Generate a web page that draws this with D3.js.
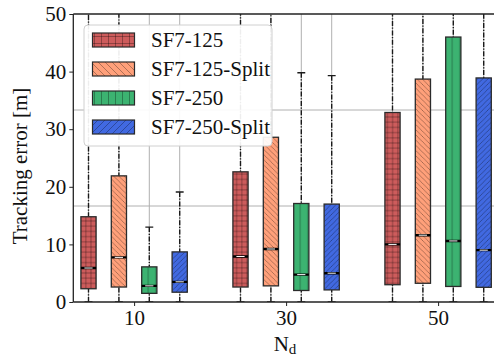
<!DOCTYPE html>
<html>
<head>
<meta charset="utf-8">
<script src="https://cdn.jsdelivr.net/npm/d3@7"></script>
<style>
  html, body { margin: 0; padding: 0; background: #fff; }
  svg { display: block; }
</style>
</head>
<body>
<svg id="chart" width="494" height="356"></svg>
<script>
// Node counts on the x axis
const groups = [10, 30, 50];
const seriesNames = ["SF7-125", "SF7-125-Split", "SF7-250", "SF7-250-Split"];
const seriesColors = ["#cd5c5c", "#ffa07a", "#3cb371", "#4169e1"];
const seriesHatch = ["grid", "back", "vert", "fwd"];
const seriesOffset = [-6, -2, 2, 6];

// Box statistics per series, one entry per group (10, 30, 50)
const whiskerLow = {
  "SF7-125":       [0, 0, 0],
  "SF7-125-Split": [0, 0, 0],
  "SF7-250":       [0, 0, 0],
  "SF7-250-Split": [0, 0, 0]
};
const q1 = {
  "SF7-125":       [2.3, 2.6, 3.0],
  "SF7-125-Split": [2.6, 2.8, 3.25],
  "SF7-250":       [1.5, 2.0, 2.7],
  "SF7-250-Split": [1.7, 2.1, 2.55]
};
const median = {
  "SF7-125":       [5.9, 7.9, 10.0],
  "SF7-125-Split": [7.75, 9.2, 11.6],
  "SF7-250":       [2.8, 4.75, 10.6],
  "SF7-250-Split": [3.5, 5.0, 9.0]
};
const q3 = {
  "SF7-125":       [14.8, 22.6, 32.9],
  "SF7-125-Split": [21.9, 28.6, 38.7],
  "SF7-250":       [6.1, 17.1, 46.0],
  "SF7-250-Split": [8.7, 17.0, 38.9]
};
const whiskerHigh = {
  "SF7-125":       [58, 62, 70],
  "SF7-125-Split": [60, 64, 72],
  "SF7-250":       [13.0, 39.8, 75],
  "SF7-250-Split": [19.1, 39.3, 68]
};

const yTicks = [0, 10, 20, 30, 40, 50];
const yGrid = [50 / 3, 100 / 3];

const SERIF = "Liberation Serif, Times New Roman, DejaVu Serif, serif";

const svg = d3.select("#chart");
const plot = { left: 73.3, top: 14, bottom: 302, right: 498.9 };

const x = d3.scaleLinear().domain([2, 58]).range([plot.left, plot.right]);
const y = d3.scaleLinear().domain([0, 50]).range([plot.bottom, plot.top]);
const boxW = x(2) - x(0);

// Hatch patterns (box fills and legend swatches)
const defs = svg.append("defs");
function makePatterns(prefix, size, vertSize) {
  const hatchStroke = "rgba(0,0,0,0.38)";
  seriesNames.forEach((name, i) => {
    const kind = seriesHatch[i];
    const s = kind === "vert" ? vertSize : size;
    const p = defs.append("pattern")
      .attr("id", prefix + i)
      .attr("patternUnits", "userSpaceOnUse")
      .attr("width", s).attr("height", s);
    p.append("rect").attr("width", s).attr("height", s).attr("fill", seriesColors[i]);
    const ln = (x1, y1, x2, y2) => p.append("line")
      .attr("x1", x1).attr("y1", y1).attr("x2", x2).attr("y2", y2)
      .attr("stroke", hatchStroke).attr("stroke-width", 0.8);
    if (kind === "grid") {
      ln(s / 2, 0, s / 2, s);
      ln(0, s / 2, s, s / 2);
    } else if (kind === "vert") {
      ln(s / 2, 0, s / 2, s);
    } else if (kind === "back") {
      ln(0, 0, s, s);
      ln(-s, 0, s, 2 * s);
      ln(0, -s, 2 * s, s);
    } else if (kind === "fwd") {
      ln(0, s, s, 0);
      ln(-s, s, s, -s);
      ln(0, 2 * s, 2 * s, 0);
    }
  });
}
makePatterns("hb", 5.2, 7.6);
makePatterns("hl", 7, 7);

defs.append("clipPath").attr("id", "plotClip")
  .append("rect")
  .attr("x", plot.left).attr("y", plot.top)
  .attr("width", plot.right - plot.left).attr("height", plot.bottom - plot.top);

// One record per box
const boxes = [];
groups.forEach((g, gi) => {
  seriesNames.forEach((name, si) => {
    boxes.push({
      pos: g + seriesOffset[si], si,
      lo: whiskerLow[name][gi], q1: q1[name][gi], med: median[name][gi],
      q3: q3[name][gi], hi: whiskerHigh[name][gi]
    });
  });
});

// Grid
const gridG = svg.append("g").attr("clip-path", "url(#plotClip)");
gridG.selectAll("line.hg").data(yGrid).join("line")
  .attr("x1", plot.left).attr("x2", plot.right)
  .attr("y1", d => y(d)).attr("y2", d => y(d))
  .attr("stroke", "#b0b0b0").attr("stroke-width", 1);
gridG.selectAll("line.vg").data(boxes).join("line")
  .attr("x1", d => x(d.pos)).attr("x2", d => x(d.pos))
  .attr("y1", plot.top).attr("y2", plot.bottom)
  .attr("stroke", "#b0b0b0").attr("stroke-width", 1);

// Boxes and whiskers
const boxG = svg.append("g").attr("clip-path", "url(#plotClip)");
const dash = "5,1.6,1.2,1.6";
boxG.selectAll("line.wl").data(boxes).join("line")
  .attr("x1", d => x(d.pos)).attr("x2", d => x(d.pos))
  .attr("y1", d => y(d.lo)).attr("y2", d => y(d.q1))
  .attr("stroke", "#1a1a1a").attr("stroke-width", 1.4).attr("stroke-dasharray", dash);
boxG.selectAll("line.wh").data(boxes).join("line")
  .attr("x1", d => x(d.pos)).attr("x2", d => x(d.pos))
  .attr("y1", d => y(d.hi)).attr("y2", d => y(d.q3))
  .attr("stroke", "#1a1a1a").attr("stroke-width", 1.4).attr("stroke-dasharray", dash);
boxG.selectAll("line.ch").data(boxes).join("line")
  .attr("x1", d => x(d.pos) - boxW * 0.26).attr("x2", d => x(d.pos) + boxW * 0.26)
  .attr("y1", d => y(d.hi)).attr("y2", d => y(d.hi))
  .attr("stroke", "#1a1a1a").attr("stroke-width", 1.4);
boxG.selectAll("line.cl").data(boxes).join("line")
  .attr("x1", d => x(d.pos) - boxW * 0.26).attr("x2", d => x(d.pos) + boxW * 0.26)
  .attr("y1", d => y(d.lo)).attr("y2", d => y(d.lo))
  .attr("stroke", "#1a1a1a").attr("stroke-width", 1.4);
boxG.selectAll("rect.box").data(boxes).join("rect")
  .attr("x", d => x(d.pos) - boxW / 2).attr("width", boxW)
  .attr("y", d => y(d.q3)).attr("height", d => y(d.q1) - y(d.q3))
  .attr("fill", d => `url(#hb${d.si})`)
  .attr("stroke", "#2b2b2b").attr("stroke-width", 1.3);
boxG.selectAll("line.med").data(boxes).join("line")
  .attr("x1", d => x(d.pos) - boxW / 2).attr("x2", d => x(d.pos) + boxW / 2)
  .attr("y1", d => y(d.med)).attr("y2", d => y(d.med))
  .attr("stroke", "#000").attr("stroke-width", 2.4);
boxG.selectAll("line.medw").data(boxes).join("line")
  .attr("x1", d => x(d.pos) - boxW * 0.27).attr("x2", d => x(d.pos) + boxW * 0.27)
  .attr("y1", d => y(d.med)).attr("y2", d => y(d.med))
  .attr("stroke", "#fff").attr("stroke-width", 1);

// Axes
const axisColor = "#222";
svg.append("line").attr("x1", plot.left).attr("x2", plot.right)
  .attr("y1", plot.top).attr("y2", plot.top)
  .attr("stroke", axisColor).attr("stroke-width", 1.3);

const yAxis = svg.append("g").attr("transform", `translate(${plot.left},0)`)
  .call(d3.axisLeft(y).tickValues(yTicks).tickSize(4).tickPadding(3).tickFormat(d3.format("d")));
const xAxis = svg.append("g").attr("transform", `translate(0,${plot.bottom})`)
  .call(d3.axisBottom(x).tickValues(groups).tickSize(4).tickPadding(4).tickFormat(d3.format("d")));
[yAxis, xAxis].forEach(a => {
  a.attr("font-family", SERIF).attr("font-size", 21);
  a.select(".domain").attr("stroke", axisColor).attr("stroke-width", 1.3);
  a.selectAll(".tick line").attr("stroke", axisColor).attr("stroke-width", 1);
  a.selectAll(".tick text").attr("fill", "#111");
});
xAxis.select(".domain").attr("d", `M${plot.left},0H${plot.right}`);
yAxis.select(".domain").attr("d", `M0,${plot.bottom}V${plot.top}`);

// Axis titles
svg.append("text")
  .attr("transform", `translate(27,${(plot.top + plot.bottom) / 2 + 8}) rotate(-90)`)
  .attr("text-anchor", "middle")
  .attr("font-family", SERIF).attr("font-size", 21).attr("fill", "#111")
  .text("Tracking error [m]");
const xl = svg.append("text")
  .attr("x", 285).attr("y", 351)
  .attr("text-anchor", "middle")
  .attr("font-family", SERIF).attr("font-size", 21).attr("fill", "#111");
xl.append("tspan").text("N");
xl.append("tspan").attr("font-size", 15).attr("dy", 3).text("d");

// Legend
const leg = svg.append("g");
leg.append("rect")
  .attr("x", 84).attr("y", 25).attr("width", 188).attr("height", 121)
  .attr("rx", 4).attr("ry", 4)
  .attr("fill", "rgba(255,255,255,0.92)")
  .attr("stroke", "#d0d0d0").attr("stroke-width", 1);
const rows = leg.selectAll("g.row").data(seriesNames).join("g")
  .attr("transform", (d, i) => `translate(0,${40 + i * 29})`);
rows.append("rect")
  .attr("x", 92.5).attr("y", -7).attr("width", 42).attr("height", 14)
  .attr("fill", (d, i) => `url(#hl${i})`)
  .attr("stroke", "#2b2b2b").attr("stroke-width", 1.2);
rows.append("text")
  .attr("x", 151).attr("y", 7)
  .attr("font-family", SERIF).attr("font-size", 21).attr("fill", "#111")
  .text(d => d);
</script>
</body>
</html>
